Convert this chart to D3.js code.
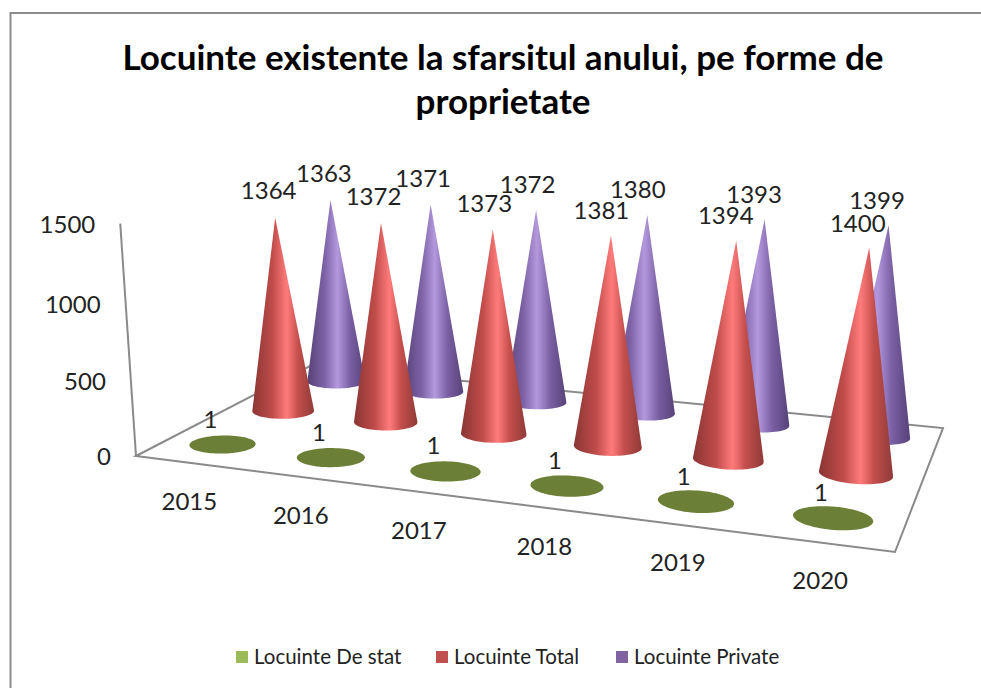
<!DOCTYPE html>
<html><head><meta charset="utf-8">
<script src="https://cdn.jsdelivr.net/npm/d3@7/dist/d3.min.js"></script>
<style>html,body{margin:0;padding:0;background:#fff}svg{display:block}text{font-family:Lato,"Open Sans",sans-serif;fill:#222}</style>
</head><body><svg id="c" width="981" height="688"></svg>
<script>
const years = ["2015","2016","2017","2018","2019","2020"];
const deStat = [1,1,1,1,1,1];
const total = [1364,1372,1373,1381,1394,1400];
const privat = [1363,1371,1372,1380,1393,1399];
const seriesNames = ["Locuinte De stat","Locuinte Total","Locuinte Private"];
const valueTicks = [0,500,1000,1500];

const svg = d3.select("#c");
// camera: floor corners on screen
const P0=[136,456],P1=[895,552],P2=[943,428],P3=[310,366];
const AXIS_TOP=[120,220], S=-0.04;
const dx1=P1[0]-P2[0],dx2=P3[0]-P2[0],sx=P0[0]-P1[0]+P2[0]-P3[0];
const dy1=P1[1]-P2[1],dy2=P3[1]-P2[1],sy=P0[1]-P1[1]+P2[1]-P3[1];
const det=dx1*dy2-dx2*dy1;
const g=(sx*dy2-dx2*sy)/det,h=(dx1*sy-sx*dy1)/det;
const a=P1[0]-P0[0]+g*P1[0],b=P3[0]-P0[0]+h*P3[0],c=P0[0];
const d=P1[1]-P0[1]+g*P1[1],e=P3[1]-P0[1]+h*P3[1],f=P0[1];
const p=AXIS_TOP[0]*(1+S)-c,q=AXIS_TOP[1]*(1+S)-f;
function project(u,v,z){const w=g*u+h*v+1+S*z;return [(a*u+b*v+c+p*z)/w,(d*u+e*v+f+q*z)/w];}

const uScale=d3.scaleBand().domain(years).range([0,1]);
const vScale=d3.scalePoint().domain(seriesNames).range([0.17,0.86]);
const zScale=d3.scaleLinear().domain([0,1500]).range([0,0.985]);
const R=0.28/6, RV=0.08;

// defs
const defs=svg.append("defs");
function grad(id,stops){const l=defs.append("linearGradient").attr("id",id);stops.forEach(s=>l.append("stop").attr("offset",s[0]).attr("stop-color",s[1]));}
grad("gt",[[0,"#8a3634"],[.33,"#c04c4a"],[.56,"#ff7b7b"],[.74,"#c44f4d"],[1,"#8f3a38"]]);
grad("gp",[[0,"#564175"],[.3,"#7d62a6"],[.52,"#b498de"],[.74,"#7a5fa3"],[1,"#574279"]]);
const fills={"Locuinte De stat":"#6b7f36","Locuinte Total":"url(#gt)","Locuinte Private":"url(#gp)"};
const swatch={"Locuinte De stat":"#9bbb59","Locuinte Total":"#c0504d","Locuinte Private":"#8064a2"};
const values={"Locuinte De stat":deStat,"Locuinte Total":total,"Locuinte Private":privat};

// chart frame
svg.append("path").attr("d","M10.5,688V13H981").attr("fill","none").attr("stroke","#8c8c8c").attr("stroke-width",2);

// title
svg.selectAll("text.t").data(["Locuinte existente la sfarsitul anului, pe forme de","proprietate"]).join("text")
 .attr("class","t").attr("x",503).attr("y",(x,i)=>70+i*44).attr("text-anchor","middle")
 .attr("font-size",35).attr("font-weight",700).style("fill","#000").text(x=>x);

// floor + axis
const line=d3.line();
svg.append("path").attr("d",line([P0,P1,P2,P3])+"Z").attr("fill","none").attr("stroke","#8a8a8a").attr("stroke-width",2);
svg.append("path").attr("d",line([project(0,0,0),project(0,0,zScale(1500))])).attr("stroke","#8a8a8a").attr("stroke-width",2).attr("fill","none");

// value axis labels
valueTicks.forEach(t=>{const pt=project(0,0,zScale(t));
 svg.append("text").attr("x",pt[0]-25).attr("y",pt[1]+1).attr("dy",".35em").attr("text-anchor","end").attr("font-size",24).text(t);});
// category labels
years.forEach(y=>{const pt=project(uScale(y)+uScale.bandwidth()/2,0,0);
 svg.append("text").attr("x",pt[0]).attr("y",pt[1]+38.5).attr("dy",".35em").attr("text-anchor","middle").attr("font-size",24).text(y);});

// cones, back row first
const labels=[];
seriesNames.slice().reverse().forEach(name=>{
 years.forEach((y,i)=>{
  const u=uScale(y)+uScale.bandwidth()/2,v=vScale(name),val=values[name][i];
  const apex=project(u,v,zScale(val));
  const base=d3.range(0,72).map(k=>{const t=k/72*2*Math.PI;return project(u+R*Math.cos(t),v+RV*Math.sin(t),0);});
  const hull=d3.polygonHull(val>10?base.concat([apex]):base);
  svg.append("path").attr("d",line(hull)+"Z").attr("fill",fills[name]);
  labels.push({x:apex[0],y:apex[1],u,val,flat:val<=10});
 });
});
labels.forEach(l=>svg.append("text")
 .attr("x",l.x+(l.flat?-12:-6-6*l.u))
 .attr("y",l.y-(l.flat?25:27-3*l.u))
 .attr("dy",".35em").attr("text-anchor","middle").attr("font-size",24).text(l.val));

// legend
const lx=d3.scaleOrdinal().domain(seriesNames).range([236,436,616]);
seriesNames.forEach(n=>{
 svg.append("rect").attr("x",lx(n)).attr("y",651).attr("width",12).attr("height",12).attr("fill",swatch[n]);
 svg.append("text").attr("x",lx(n)+18).attr("y",657).attr("dy",".35em").attr("font-size",20.5).text(n);
});
</script></body></html>
